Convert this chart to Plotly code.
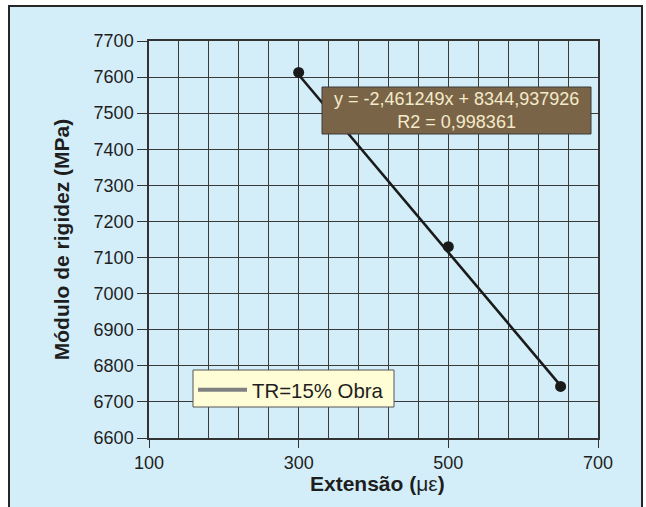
import plotly.graph_objects as go

# Data
extensao = [300, 500, 650]
modulo = [7613, 7130, 6743]
slope = -2.461249
intercept = 8344.937926
r2 = 0.998361
series_name = "TR=15% Obra"
x_ticks = [100, 300, 500, 700]
y_ticks = list(range(6600, 7701, 100))
x_title = "<b>Extensão (</b>με<b>)</b>"
y_title = "<b>Módulo de rigidez (MPa)</b>"

W, H = 646, 507
L, R, T, B = 149, 48, 41, 69
pw, ph = W - L - R, H - T - B

def px(x):
    return (x - L) / pw

def py(y):
    return (H - B - y) / ph

fit_x = [min(extensao), max(extensao)]
fit_y = [slope * v + intercept for v in fit_x]

fig = go.Figure()
fig.add_trace(go.Scatter(x=fit_x, y=fit_y, mode="lines",
                         line=dict(color="#1a1a1a", width=2.6),
                         showlegend=False, hoverinfo="skip"))
fig.add_trace(go.Scatter(x=extensao, y=modulo, mode="markers",
                         marker=dict(color="#1a1a1a", size=11),
                         showlegend=False))
fig.add_trace(go.Scatter(x=[None], y=[None], mode="lines", name=series_name,
                         line=dict(color="#808080", width=4)))

def fmt(v, d):
    return f"{v:.{d}f}".replace(".", ",")

eq_text = f"y = {fmt(slope, 6)}x + {fmt(intercept, 6)}<br>R2 = {fmt(r2, 6)}"

font_family = "Liberation Sans, Arial, Helvetica, sans-serif"

fig.update_layout(
    width=W, height=H,
    margin=dict(l=L, r=R, t=T, b=B, pad=0),
    paper_bgcolor="white",
    plot_bgcolor="#E6E7E9",
    font=dict(family=font_family, size=18, color="#1e1e1e"),
    showlegend=True,
    legend=dict(x=px(193), y=py(370), xanchor="left", yanchor="top",
                bgcolor="rgba(0,0,0,0)", borderwidth=0,
                font=dict(size=20.4, color="#1e1e1e"), itemwidth=49),
    shapes=[
        dict(type="rect", xref="paper", yref="paper", layer="below",
             x0=px(9), x1=px(642), y0=py(515), y1=py(6),
             fillcolor="#D4EEF9", line=dict(color="#262626", width=2)),
        dict(type="rect", xref="paper", yref="paper",
             x0=px(322), x1=px(591), y0=py(134), y1=py(87),
             fillcolor="#7A6448", line=dict(color="#3a3a3a", width=1)),
        dict(type="rect", xref="paper", yref="paper",
             x0=px(193), x1=px(394), y0=py(407), y1=py(370),
             fillcolor="#FFFDD6", line=dict(color="#555555", width=1)),
    ],
    annotations=[
        dict(xref="paper", yref="paper", x=px(456.5), y=py(111),
             xanchor="center", yanchor="middle", showarrow=False,
             text=eq_text, align="center",
             font=dict(size=18, color="#F4EBC9", family=font_family)),
        dict(xref="paper", yref="paper", x=px(377), y=py(483),
             xanchor="center", yanchor="middle", showarrow=False,
             text=x_title, font=dict(size=21, color="#1e1e1e", family=font_family)),
    ],
)

fig.update_xaxes(
    range=[100, 700], tickvals=x_ticks, ticks="outside", ticklen=8,
    tickcolor="#333333", tickwidth=1,
    showgrid=True, gridcolor="#3a3a3a", gridwidth=1,
    minor=dict(dtick=40, tick0=100, showgrid=True, gridcolor="#3a3a3a", gridwidth=1),
    showline=True, linecolor="#333333", linewidth=1.5, mirror=True,
    zeroline=False,
    tickfont=dict(size=18),
)
fig.update_yaxes(
    range=[6600, 7700], tickvals=y_ticks, ticks="outside", ticklen=10,
    tickcolor="#333333", tickwidth=1,
    showgrid=True, gridcolor="#3a3a3a", gridwidth=1,
    showline=True, linecolor="#333333", linewidth=1.5, mirror=True,
    zeroline=False, automargin=True,
    tickfont=dict(size=18),
    title=dict(text=y_title, font=dict(size=21), standoff=18),
)

fig.write_html("out.html", config={"displayModeBar": False},
               post_script="document.body.style.margin='0';document.body.style.overflow='hidden';")
